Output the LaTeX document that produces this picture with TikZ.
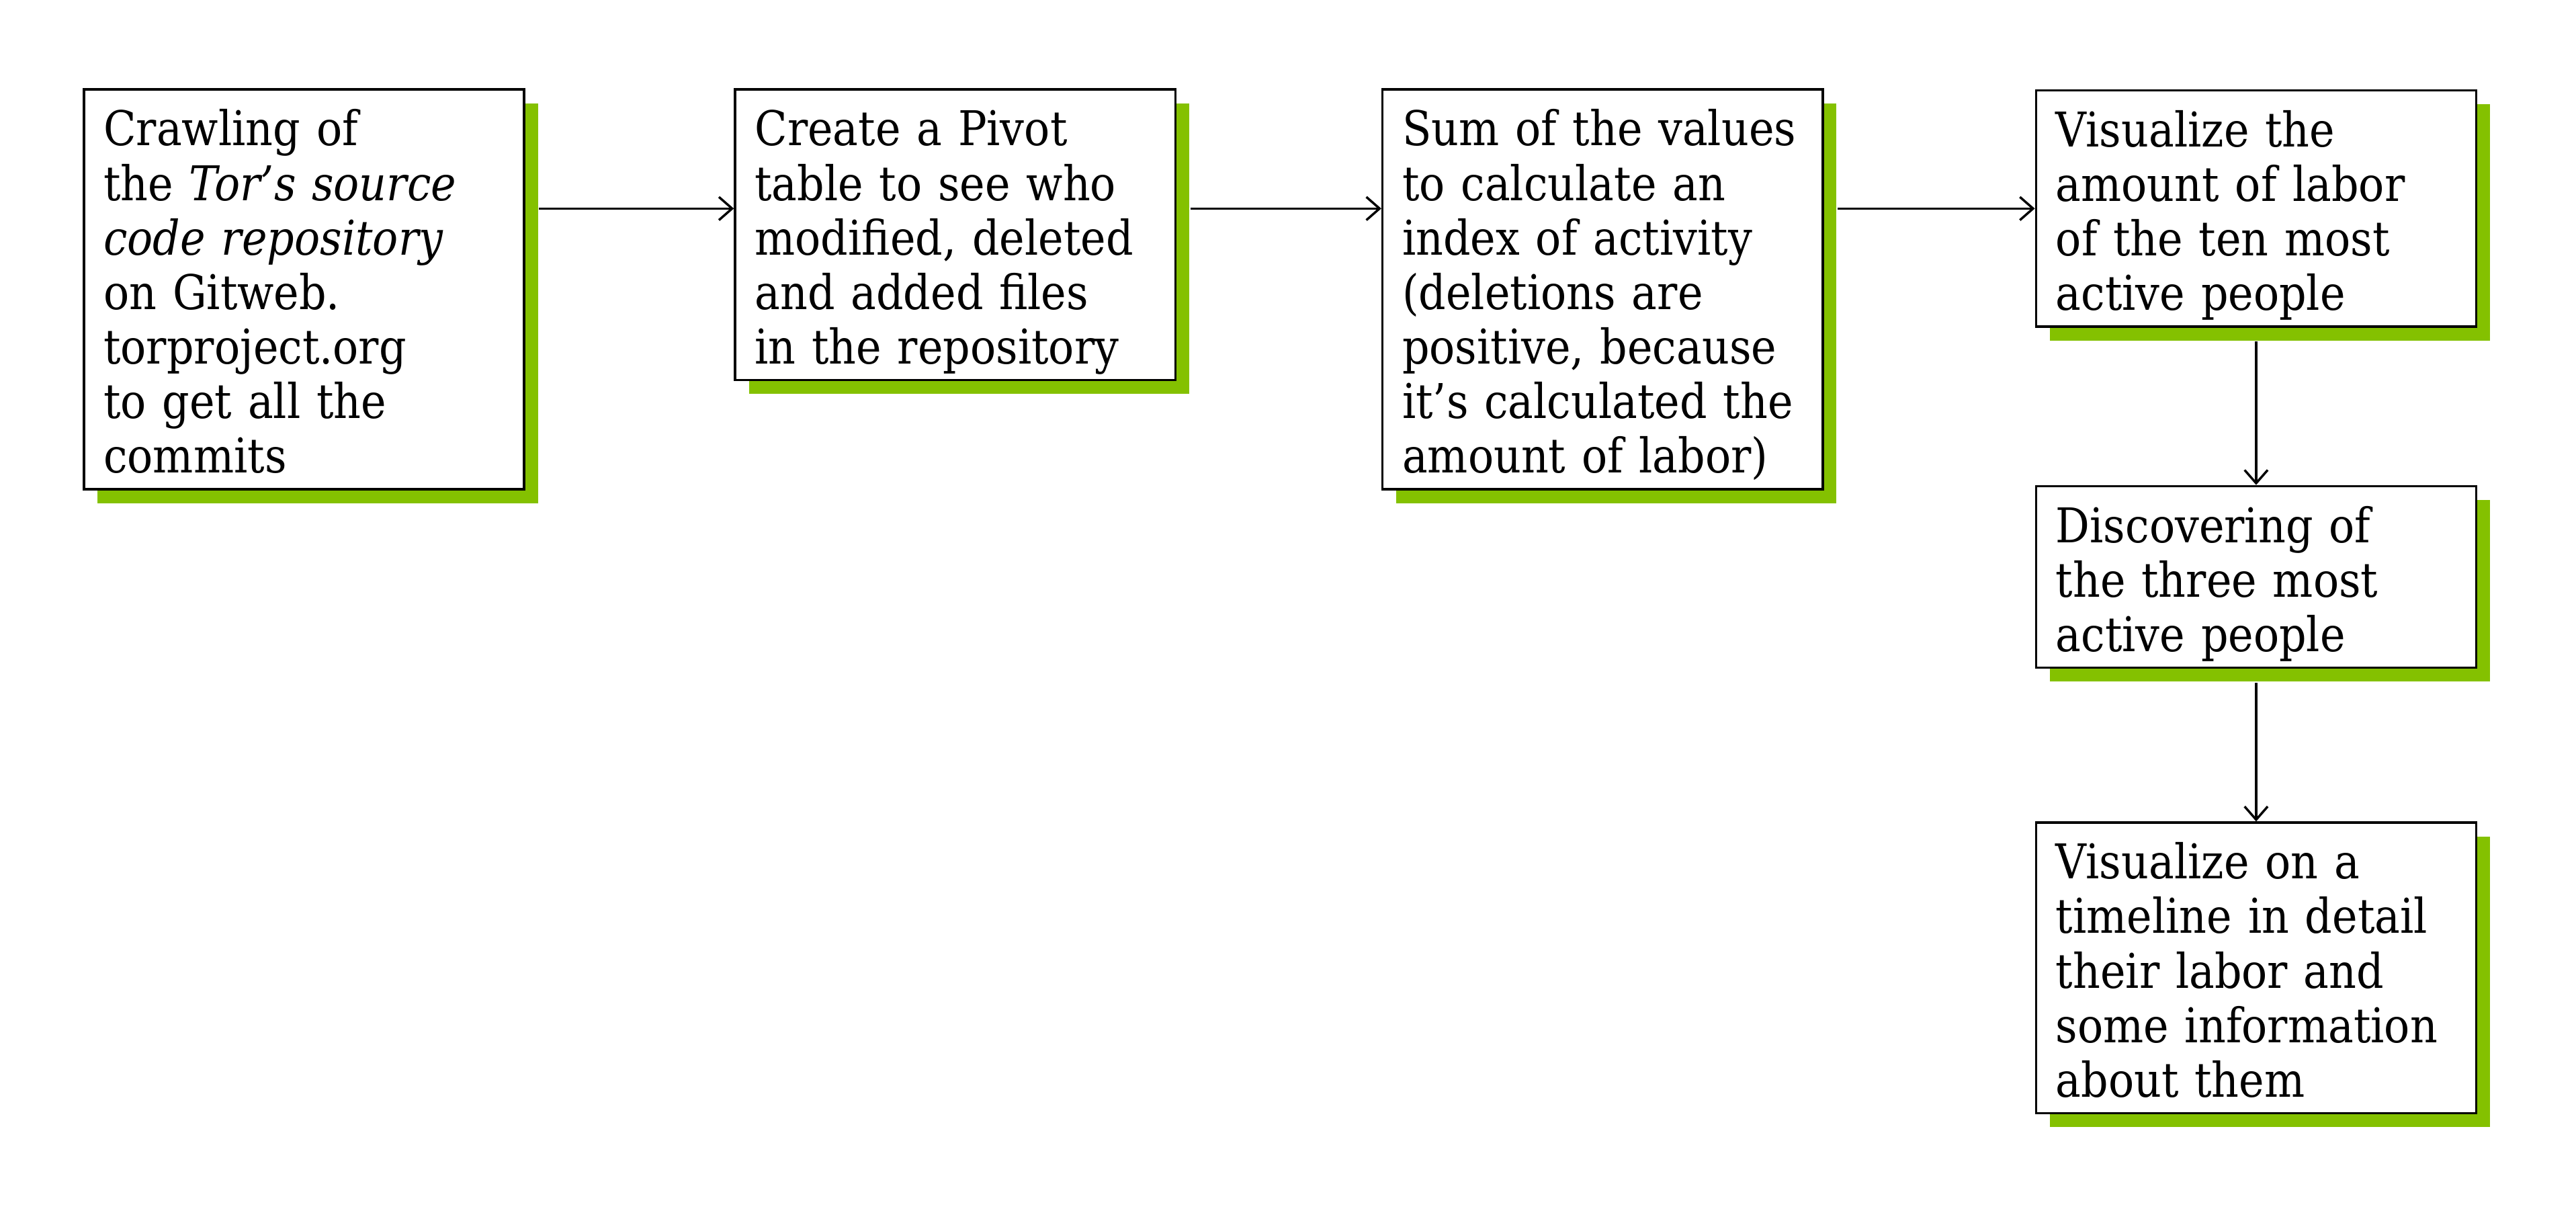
\documentclass[tikz,border=0pt]{standalone}
\usepackage{fontspec}
\setmainfont{DejaVu Serif}[FakeStretch=0.89]
\usetikzlibrary{arrows.meta,shadows}
\definecolor{torgreen}{RGB}{132,193,0}

\tikzset{
	stepbox/.style={draw, line width=0.7pt, fill=white, anchor=north west,
		text width=121.3pt, inner xsep=6pt, inner ysep=2.75pt, align=left,
		font=\fontsize{14.5}{16.5}\selectfont,
		text height=14.3pt, text depth={(#1-1)*16.5pt+2.2pt},
		drop shadow={shadow xshift=4.2pt, shadow yshift=-4.2pt, fill=torgreen, opacity=1}},
	flow/.style={->, line width=0.7pt},
}

\begin{document}
\begin{tikzpicture}[>={Straight Barb[length=4pt,width=7pt]}]
		\useasboundingbox (0, 0) rectangle (27.414, -12.906);

		\node[stepbox=7] (crawl) at (0.88, -0.94) {Crawling of\\ the \textit{Tor's source}\\ \textit{code repository}\\ on Gitweb.\\ torproject.org\\ to get all the\\ commits};
		\node[stepbox=5] (pivot) at (7.81, -0.94) {Create a Pivot\\ table to see who\\ modified, deleted\\ and added files\\ in the repository};
		\node[stepbox=7] (sum) at (14.70, -0.94) {Sum of the values\\ to calculate an\\ index of activity\\ (deletions are\\ positive, because\\ it's calculated the\\ amount of labor)};
		\node[stepbox=4] (tenmost) at (21.655, -0.95) {Visualize the\\ amount of labor\\ of the ten most\\ active people};
		\node[stepbox=3] (threemost) at (21.655, -5.16) {Discovering of\\ the three most\\ active people};
		\node[stepbox=5] (timeline) at (21.655, -8.74) {Visualize on a\\ timeline in detail\\ their labor and\\ some information\\ about them};

		\draw[flow] ([xshift=4.2pt]crawl.east |- tenmost) -- (pivot.west |- tenmost);
		\draw[flow] ([xshift=4.2pt]pivot.east |- tenmost) -- (sum.west |- tenmost);
		\draw[flow] ([xshift=4.2pt]sum.east |- tenmost) -- (tenmost.west);
		\draw[flow] ([yshift=-4.2pt]tenmost.south) -- (threemost.north);
		\draw[flow] ([yshift=-4.2pt]threemost.south) -- (timeline.north);
	\end{tikzpicture}
\end{document}
